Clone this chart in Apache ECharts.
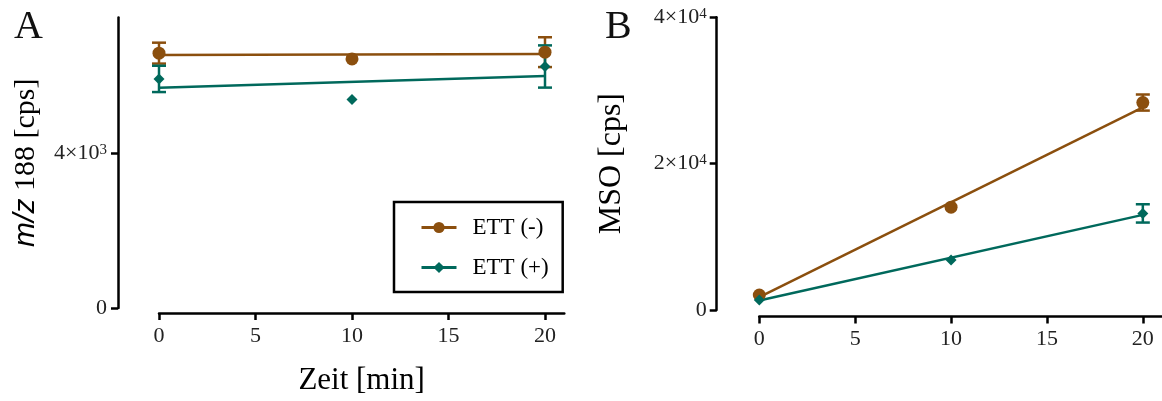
<!DOCTYPE html>
<html>
<head>
<meta charset="utf-8">
<script src="https://cdn.jsdelivr.net/npm/echarts@6/dist/echarts.min.js"></script>
<style>
  html, body { margin: 0; padding: 0; background: #fff; }
  #main { width: 1162px; height: 401px; }
</style>
</head>
<body>
<div id="main"></div>
<script>
// Zeitpunkte [min]
var zeit = [0, 10, 20];
var fitX = [0, 20];
var xTicks = [0, 5, 10, 15, 20];

// A: m/z 188 [cps], Mittelwert und SD (0 = kein sichtbarer Fehlerbalken)
var aMinusMean = [6580, 6430, 6605];
var aMinusSd = [270, 0, 385];
var aPlusMean = [5915, 5385, 6235];
var aPlusSd = [340, 0, 545];
// Regressionsgeraden A (bei 0 und 20 min)
var aMinusFit = [6530, 6560];
var aPlusFit = [5685, 5990];

// B: MSO [cps]
var bMinusMean = [2050, 14050, 28350];
var bMinusSd = [0, 0, 1100];
var bPlusMean = [1370, 6830, 13200];
var bPlusSd = [0, 0, 1250];
var bMinusFit = [1750, 27700];
var bPlusFit = [1300, 13000];

// Achsenbeschriftung y
var yTicksA = [0, 4000];
var yMantA = ['0', '4×10'];
var yExpA = ['', '3'];
var yTicksB = [0, 20000, 40000];
var yMantB = ['0', '2×10', '4×10'];
var yExpB = ['', '4', '4'];

var brown = '#8b4f0e';
var teal = '#00695c';
var serif = 'Liberation Serif, Times New Roman, serif';

function pairs(xs, ys) {
  return xs.map(function (x, i) { return [x, ys[i]]; });
}
function bars(xs, m, sd) {
  return xs.map(function (x, i) { return [x, m[i] - sd[i], m[i] + sd[i]]; });
}
function tickFormatter(ticks, mant, exp) {
  return function (v) {
    var i = ticks.indexOf(v);
    if (i < 0) return '';
    return exp[i] ? '{m|' + mant[i] + '}{e|' + exp[i] + '}' : '{m|' + mant[i] + '}';
  };
}
function errorBar(color) {
  return function (params, api) {
    var x = api.value(0);
    if (api.value(1) === api.value(2)) return null;
    var p1 = api.coord([x, api.value(1)]);
    var p2 = api.coord([x, api.value(2)]);
    var h = 7;
    var st = { stroke: color, lineWidth: 2.5 };
    return {
      type: 'group',
      children: [
        { type: 'line', shape: { x1: p1[0], y1: p1[1], x2: p2[0], y2: p2[1] }, style: st },
        { type: 'line', shape: { x1: p1[0] - h, y1: p1[1], x2: p1[0] + h, y2: p1[1] }, style: st },
        { type: 'line', shape: { x1: p2[0] - h, y1: p2[1], x2: p2[0] + h, y2: p2[1] }, style: st }
      ]
    };
  };
}

var axisLineStyle = { color: '#000', width: 2.5 };
var tickRich = {
  m: { fontFamily: serif, fontSize: 22, color: '#222' },
  e: { fontFamily: serif, fontSize: 15, color: '#222', verticalAlign: 'top' }
};

function xAxis(grid, offset, name) {
  return {
    type: 'value', gridIndex: grid, min: 0, max: 21, interval: 5,
    offset: offset,
    name: name, nameLocation: 'middle', nameGap: 52,
    nameTextStyle: { fontFamily: serif, fontSize: 31, color: '#000' },
    axisLine: { show: true, onZero: false, lineStyle: axisLineStyle },
    axisTick: { show: true, length: 7, lineStyle: axisLineStyle, customValues: xTicks },
    axisLabel: { fontFamily: serif, fontSize: 22, color: '#222', margin: 12, customValues: xTicks },
    splitLine: { show: false }
  };
}

function meanSeries(name, xi, data, symbol, size, color) {
  return {
    name: name, type: 'line', xAxisIndex: xi, yAxisIndex: xi,
    data: data, symbol: symbol, symbolSize: size,
    itemStyle: { color: color },
    lineStyle: { opacity: 0, color: color },
    z: 5
  };
}
function fitSeries(name, xi, data, color) {
  return {
    name: name, type: 'line', xAxisIndex: xi, yAxisIndex: xi,
    data: data, symbol: 'none', lineStyle: { color: color, width: 2.5 }, z: 3
  };
}
function barSeries(name, xi, data, color) {
  return {
    name: name, type: 'custom', xAxisIndex: xi, yAxisIndex: xi,
    data: data, renderItem: errorBar(color), z: 4
  };
}

var chart = echarts.init(document.getElementById('main'), null, { renderer: 'canvas' });
chart.setOption({
  animation: false,
  backgroundColor: '#fff',
  title: [
    { text: 'A', left: 9, top: 2, textStyle: { fontFamily: serif, fontSize: 40, fontWeight: 'normal', color: '#111' } },
    { text: 'B', left: 600, top: 2, textStyle: { fontFamily: serif, fontSize: 40, fontWeight: 'normal', color: '#111' } }
  ],
  grid: [
    { left: 159, top: 17.5, width: 405.3, height: 292.5 },
    { left: 759.3, top: 17.3, width: 406, height: 292.7 }
  ],
  legend: {
    left: 394, top: 202,
    orient: 'vertical',
    borderColor: '#000', borderWidth: 2.5,
    padding: [14, 14, 13, 26],
    itemGap: 17, itemWidth: 35, itemHeight: 14,
    textStyle: { fontFamily: serif, fontSize: 23, color: '#000', padding: [0, 0, 0, 11] },
    data: [
      { name: 'ETT (-)', lineStyle: { opacity: 1, width: 3 } },
      { name: 'ETT (+)', lineStyle: { opacity: 1, width: 3 } }
    ]
  },
  xAxis: [xAxis(0, 5, 'Zeit [min]'), xAxis(1, 6.5, '')],
  yAxis: [
    {
      type: 'value', gridIndex: 0, min: 0, max: 7500, interval: 4000, offset: 41,
      name: '{i|m/z}{n| 188 [cps]}', nameLocation: 'middle', nameGap: 77,
      nameTextStyle: {
        rich: {
          i: { fontFamily: 'Liberation Sans, Arial, sans-serif', fontStyle: 'italic', fontSize: 30, color: '#000' },
          n: { fontFamily: serif, fontSize: 30, color: '#000' }
        }
      },
      axisLine: { show: true, onZero: false, lineStyle: axisLineStyle },
      axisTick: { show: true, length: 7, lineStyle: axisLineStyle, customValues: yTicksA },
      axisLabel: { margin: 11, customValues: yTicksA, formatter: tickFormatter(yTicksA, yMantA, yExpA), rich: tickRich },
      splitLine: { show: false }
    },
    {
      type: 'value', gridIndex: 1, min: 0, max: 40000, interval: 20000, offset: 42.6,
      name: 'MSO [cps]', nameLocation: 'middle', nameGap: 89,
      nameTextStyle: { fontFamily: serif, fontSize: 32, color: '#000' },
      axisLine: { show: true, onZero: false, lineStyle: axisLineStyle },
      axisTick: { show: true, length: 7, lineStyle: axisLineStyle, customValues: yTicksB },
      axisLabel: { margin: 10, customValues: yTicksB, formatter: tickFormatter(yTicksB, yMantB, yExpB), rich: tickRich },
      splitLine: { show: false }
    }
  ],
  series: [
    meanSeries('ETT (-)', 0, pairs(zeit, aMinusMean), 'circle', 13, brown),
    meanSeries('ETT (+)', 0, pairs(zeit, aPlusMean), 'diamond', 11, teal),
    fitSeries('fitAminus', 0, pairs(fitX, aMinusFit), brown),
    fitSeries('fitAplus', 0, pairs(fitX, aPlusFit), teal),
    barSeries('errAminus', 0, bars(zeit, aMinusMean, aMinusSd), brown),
    barSeries('errAplus', 0, bars(zeit, aPlusMean, aPlusSd), teal),

    meanSeries('ETT (-)', 1, pairs(zeit, bMinusMean), 'circle', 13, brown),
    meanSeries('ETT (+)', 1, pairs(zeit, bPlusMean), 'diamond', 11, teal),
    fitSeries('fitBminus', 1, pairs(fitX, bMinusFit), brown),
    fitSeries('fitBplus', 1, pairs(fitX, bPlusFit), teal),
    barSeries('errBminus', 1, bars(zeit, bMinusMean, bMinusSd), brown),
    barSeries('errBplus', 1, bars(zeit, bPlusMean, bPlusSd), teal)
  ]
});
</script>
</body>
</html>
